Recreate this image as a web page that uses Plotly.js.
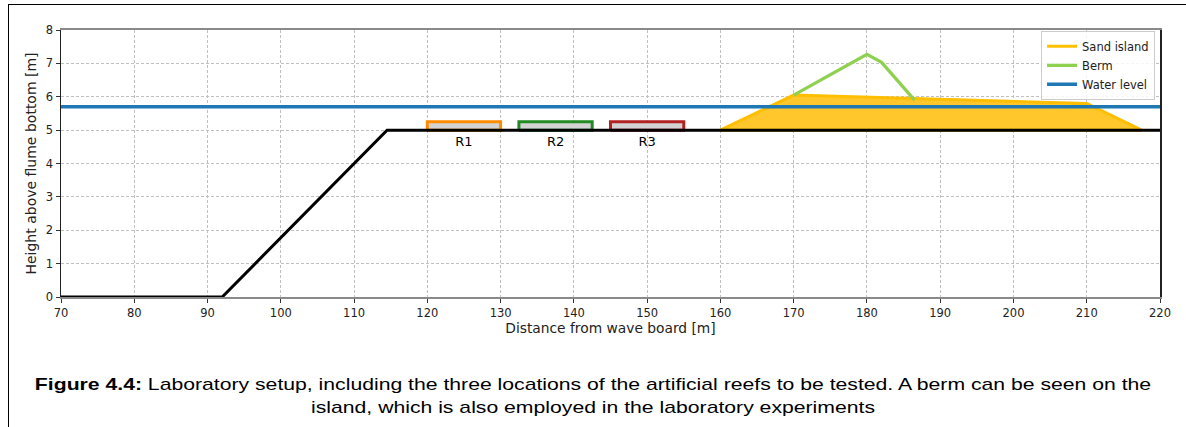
<!DOCTYPE html>
<html>
<head>
<meta charset="utf-8">
<script src="https://cdn.plot.ly/plotly-3.0.1.min.js"></script>
<style>
  html, body { margin:0; padding:0; background:#fff; }
  #wrap { position:relative; width:1186px; height:427px; overflow:hidden; }
  #chart { position:absolute; left:0; top:0; width:1186px; height:427px; }
  #frame { position:absolute; left:8px; top:4px; right:-2px; bottom:-2px;
           border-left:1px solid #000; border-top:1px solid #000; pointer-events:none; }
  #caption { position:absolute; left:0; top:373px; width:1186px; text-align:center;
             font-family:'Liberation Sans', Arial, sans-serif; font-size:17px; line-height:23px;
             color:#000; transform:scaleX(1.246); transform-origin:593px 0; white-space:nowrap; }
</style>
</head>
<body>
<div id="wrap">
  <div id="chart"></div>
  <div id="frame"></div>
  <div id="caption"></div>
</div>
<script>
// ---- data ----
const bedX = [70, 92, 114.5, 220];
const bedY = [0, 0, 5, 5];

const islandX = [160, 170, 210, 217.5, 160];
const islandY = [5, 6.05, 5.8, 5, 5];

const bermX = [170, 180, 182, 186.5];
const bermY = [6.05, 7.27, 7.03, 5.9];

const waterX = [70, 220];
const waterY = [5.7, 5.7];

const reefNames = ['R1', 'R2', 'R3'];
const reefStart = [120, 132.5, 145];
const reefEnd = [130, 142.5, 155];
const reefBase = 5;
const reefTop = 5.25;
const reefLabelY = 4.63;
const reefColors = ['#ff8c00', '#228b22', '#b22222'];

const xTicks = [70, 80, 90, 100, 110, 120, 130, 140, 150, 160, 170, 180, 190, 200, 210, 220];
const yTicks = [0, 1, 2, 3, 4, 5, 6, 7, 8];

const captionBold = 'Figure 4.4:';
const captionLine1 = 'Laboratory setup, including the three locations of the artificial reefs to be tested. A berm can be seen on the';
const captionLine2 = 'island, which is also employed in the laboratory experiments';

// ---- caption (real text) ----
const cap = document.getElementById('caption');
const b = document.createElement('b');
b.textContent = captionBold;
cap.appendChild(b);
cap.appendChild(document.createTextNode(' ' + captionLine1));
cap.appendChild(document.createElement('br'));
cap.appendChild(document.createTextNode(captionLine2));

// ---- traces ----
const traces = [];

traces.push({
  x: islandX, y: islandY, type: 'scatter', mode: 'lines',
  fill: 'toself', fillcolor: '#ffc72c',
  line: { color: '#ffbf00', width: 3 },
  name: 'Sand island', showlegend: false, hoverinfo: 'skip'
});

reefNames.forEach((n, i) => {
  traces.push({
    x: [reefStart[i], reefEnd[i], reefEnd[i], reefStart[i], reefStart[i]],
    y: [reefBase, reefBase, reefTop, reefTop, reefBase],
    type: 'scatter', mode: 'lines', fill: 'toself', fillcolor: '#d3d3d3',
    line: { color: reefColors[i], width: 3 },
    showlegend: false, hoverinfo: 'skip'
  });
});

traces.push({
  x: bedX, y: bedY, type: 'scatter', mode: 'lines',
  line: { color: '#000000', width: 3 }, showlegend: false, cliponaxis: false, hoverinfo: 'skip'
});

// legend entry for the island (line style, as in the reference legend)
traces.push({
  x: [null], y: [null], type: 'scatter', mode: 'lines',
  line: { color: '#ffc000', width: 3 }, name: 'Sand island', hoverinfo: 'skip'
});

traces.push({
  x: bermX, y: bermY, type: 'scatter', mode: 'lines',
  line: { color: '#8fd14f', width: 3.2 }, name: 'Berm', hoverinfo: 'skip'
});

traces.push({
  x: waterX, y: waterY, type: 'scatter', mode: 'lines',
  line: { color: '#1f77b4', width: 3.4 }, name: 'Water level', hoverinfo: 'skip'
});

traces.push({
  x: reefStart.map((s, i) => (s + reefEnd[i]) / 2),
  y: reefNames.map(() => reefLabelY),
  text: reefNames, type: 'scatter', mode: 'text',
  textfont: { family: 'DejaVu Sans', size: 13, color: '#000' },
  showlegend: false, hoverinfo: 'skip'
});

const tickFont = { family: 'DejaVu Sans', size: 11.5, color: '#222' };

const layout = {
  width: 1186, height: 427,
  margin: { l: 61, r: 26, t: 30, b: 130 },
  paper_bgcolor: 'rgba(0,0,0,0)', plot_bgcolor: '#fff',
  showlegend: true,
  legend: {
    x: 0.9955, y: 0.997, xanchor: 'right', yanchor: 'top',
    bgcolor: 'rgba(255,255,255,0.85)', bordercolor: '#cccccc', borderwidth: 1,
    font: { family: 'DejaVu Sans', size: 11.5, color: '#222' },
    itemwidth: 30, tracegroupgap: 0
  },
  xaxis: {
    range: [70, 220], tickvals: xTicks, ticktext: xTicks.map(String),
    showgrid: true, gridcolor: '#c0c0c0', griddash: '3px,2px', gridwidth: 1,
    zeroline: false, showline: true, linecolor: '#8a8a8a', linewidth: 2, mirror: true,
    ticks: 'outside', ticklen: 4, tickcolor: '#333', tickfont: tickFont,
    title: { text: 'Distance from wave board [m]', font: { family: 'DejaVu Sans', size: 13.8, color: '#222' }, standoff: 4 },
    fixedrange: true
  },
  yaxis: {
    range: [0, 8], tickvals: yTicks, ticktext: yTicks.map(String),
    showgrid: true, gridcolor: '#c0c0c0', griddash: '3px,2px', gridwidth: 1,
    zeroline: false, showline: true, linecolor: '#222', linewidth: 1.5, mirror: true,
    ticks: 'outside', ticklen: 4, tickcolor: '#333', tickfont: tickFont,
    title: { text: 'Height above flume bottom [m]', font: { family: 'DejaVu Sans', size: 14, color: '#222' }, standoff: 6 },
    fixedrange: true
  }
};

Plotly.newPlot('chart', traces, layout, { staticPlot: true, displayModeBar: false });
</script>
</body>
</html>
